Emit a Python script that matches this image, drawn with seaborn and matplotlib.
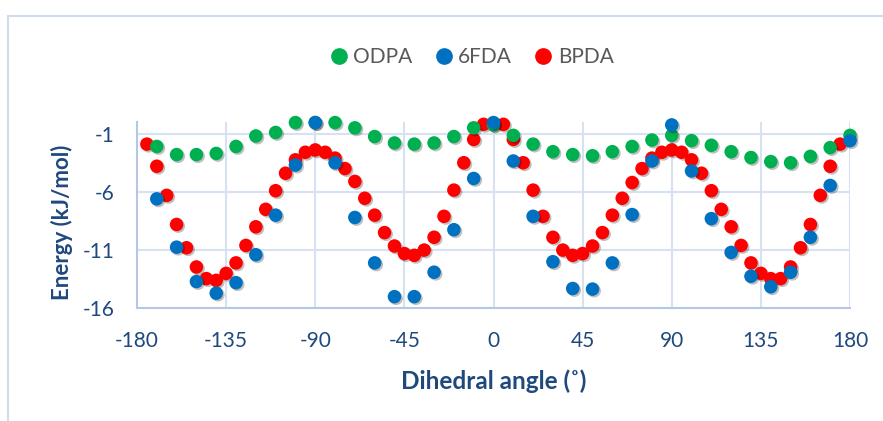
import numpy as np
import pandas as pd
import matplotlib
matplotlib.use("Agg")
import matplotlib.pyplot as plt
import matplotlib.patheffects as pe
from matplotlib.lines import Line2D
import seaborn as sns

# dihedral scan data (energies in kJ/mol)
angles_10 = list(range(-170, 190, 10))   # ODPA and 6FDA were scanned every 10 degrees
angles_5 = list(range(-175, 180, 5))     # BPDA every 5 degrees

odpa = [-2.1, -2.8, -2.8, -2.7, -2.1, -1.2, -0.9, -0.05, -0.05, -0.05,
        -0.5, -1.25, -1.8, -1.9, -1.8, -1.25, -0.5, -0.25, -1.15, -1.9,
        -2.55, -2.8, -2.9, -2.55, -2.1, -1.55, -1.15, -1.6, -2.0, -2.55,
        -3.05, -3.4, -3.5, -2.95, -2.2, -1.15]

sixfda = [-6.6, -10.75, -13.7, -14.7, -13.8, -11.4, -8.0, -3.7, -0.05, -3.5,
          -8.2, -12.1, -15.0, -15.0, -12.9, -9.25, -4.85, -0.05, -3.35, -8.1,
          -12.0, -14.3, -14.35, -12.1, -7.95, -3.35, -0.25, -4.2, -8.3, -11.2,
          -13.25, -14.15, -12.9, -9.9, -5.45, -1.6]

bpda = [-1.9, -3.8, -6.3, -8.8, -10.8, -12.45, -13.45, -13.6, -13.0, -12.1,
        -10.6, -9.0, -7.5, -5.9, -4.4, -3.25, -2.6, -2.4, -2.6, -3.1,
        -4.0, -5.1, -6.55, -8.0, -9.5, -10.65, -11.3, -11.45, -11.0, -9.9,
        -8.1, -5.85, -3.5, -1.5, -0.2, -0.2, -0.2, -1.5, -3.5, -5.85,
        -8.1, -9.9, -11.0, -11.45, -11.3, -10.65, -9.5, -8.0, -6.55, -5.2,
        -4.0, -3.1, -2.6, -2.4, -2.6, -3.25, -4.4, -5.9, -7.5, -9.0,
        -10.6, -12.1, -13.0, -13.45, -13.45, -12.45, -10.8, -8.8, -6.3, -3.8,
        -1.9]

x_ticks = [-180, -135, -90, -45, 0, 45, 90, 135, 180]
y_ticks = [-16, -11, -6, -1]

odpaData = pd.DataFrame({"angle": angles_10, "energy": odpa})
sixfdaData = pd.DataFrame({"angle": angles_10, "energy": sixfda})
bpdaData = pd.DataFrame({"angle": angles_5, "energy": bpda})

green = "#00B050"
blue = "#0070C0"
red = "#FF0000"
navy = "#1F497D"
gridcol = "#D6E1F2"

sns.set_style("white")
plt.rcParams["font.family"] = ["Lato", "DejaVu Sans"]

fig = plt.figure(figsize=(8.83, 4.21), dpi=100)
ax = fig.add_axes([137 / 883, 1 - 308.3 / 421, 713 / 883, 186.3 / 421])

# slight drop shadow like the office chart markers
shadow = [pe.SimplePatchShadow(offset=(1.2, -1.2), shadow_rgbFace="black", alpha=0.25), pe.Normal()]

# red underneath, then green, blue on top
sns.scatterplot(data=bpdaData, x="angle", y="energy", color=red, s=95, edgecolor="none", ax=ax, zorder=3)
sns.scatterplot(data=odpaData, x="angle", y="energy", color=green, s=95, edgecolor="none", ax=ax, zorder=4)
sns.scatterplot(data=sixfdaData, x="angle", y="energy", color=blue, s=95, edgecolor="none", ax=ax, zorder=5)
for coll in ax.collections:
    coll.set_path_effects(shadow)
    coll.set_clip_on(False)

ax.set_xlim(-180, 180)
ax.set_ylim(-16, 0)
ax.set_xticks(x_ticks)
ax.set_yticks(y_ticks)
ax.set_xticklabels([str(t) for t in x_ticks])
ax.set_yticklabels([str(t) for t in y_ticks])
ax.tick_params(length=0, pad=16, labelsize=15, labelcolor=navy)

# grid lines: vertical every 45 degrees, horizontal at the tick values
for t in x_ticks[1:]:
    ax.axvline(t, color=gridcol, lw=1.5, zorder=1)
for t in y_ticks[1:]:
    ax.axhline(t, color=gridcol, lw=1.5, zorder=1)

for side in ["top", "right"]:
    ax.spines[side].set_visible(False)
for side in ["left", "bottom"]:
    ax.spines[side].set_color("#B4C7E7")
    ax.spines[side].set_linewidth(1.5)

ax.set_xlabel("Dihedral angle (˚)", fontsize=17.5, fontweight="bold", color=navy)
ax.set_ylabel("Energy (kJ/mol)", fontsize=16, fontweight="bold", color=navy)
ax.xaxis.set_label_coords(0.5, (308.3 - 381) / 186.3)
ax.xaxis.label.set_va("center")
ax.yaxis.set_label_coords((62 - 137) / 713, 0.46)
ax.yaxis.label.set_va("center")

# legend on top
handles = [Line2D([], [], marker="o", ls="none", color=green, markersize=11, label="ODPA"),
           Line2D([], [], marker="o", ls="none", color=blue, markersize=11, label="6FDA"),
           Line2D([], [], marker="o", ls="none", color=red, markersize=11, label="BPDA")]
leg = fig.legend(handles=handles, loc="center", bbox_to_anchor=(471 / 883, 1 - 57 / 421), ncol=3,
                 frameon=False, fontsize=15, handletextpad=0.2, columnspacing=1.0, handlelength=1.0)
for txt in leg.get_texts():
    txt.set_color("#595959")

# chart area border (left and top edges are visible in the picture)
fig.add_artist(Line2D([8 / 883, 8 / 883], [0, 1 - 16 / 421], color="#D0DDEF", lw=1.5))
fig.add_artist(Line2D([8 / 883, 1], [1 - 16 / 421, 1 - 16 / 421], color="#D0DDEF", lw=1.5))

plt.savefig("out.png", dpi=100)
